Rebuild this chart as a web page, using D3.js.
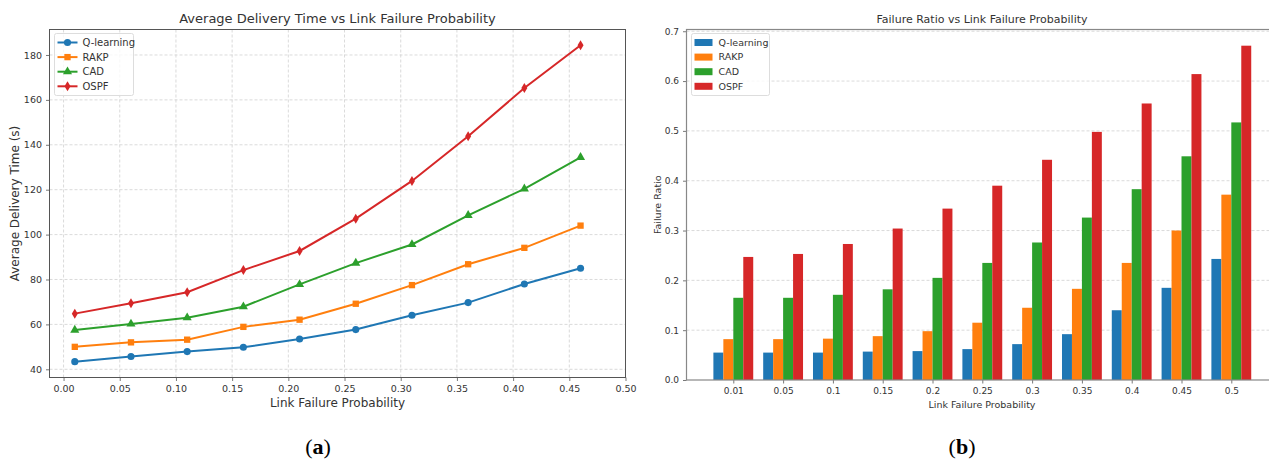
<!DOCTYPE html>
<html>
<head>
<meta charset="utf-8">
<script src="https://cdn.jsdelivr.net/npm/d3@7"></script>
<style>
  body { margin: 0; background: #fff; }
  text { font-family: "DejaVu Sans", sans-serif; fill: #333; }
</style>
</head>
<body>
<div id="chart"></div>
<script>
// --- data ---
const series = ['Q-learning', 'RAKP', 'CAD', 'OSPF'];
const colors = ['#1f77b4', '#ff7f0e', '#2ca02c', '#d62728'];

// (a) average delivery time
const probA = [0.01, 0.06, 0.11, 0.16, 0.21, 0.26, 0.31, 0.36, 0.41, 0.46];
const timeQ = [43.4, 45.7, 47.9, 49.8, 53.5, 57.7, 64.1, 69.7, 78.0, 85.0];
const timeRAKP = [50.0, 52.0, 53.2, 58.9, 62.1, 69.2, 77.5, 86.8, 94.1, 104.0];
const timeCAD = [57.5, 60.2, 63.0, 67.9, 77.8, 87.3, 95.6, 108.6, 120.4, 134.4];
const timeOSPF = [64.8, 69.4, 74.3, 84.2, 92.7, 107.1, 123.9, 143.8, 165.3, 184.3];
const xTicksA = [0, 0.05, 0.1, 0.15, 0.2, 0.25, 0.3, 0.35, 0.4, 0.45, 0.5];
const yTicksA = [40, 60, 80, 100, 120, 140, 160, 180];

// (b) failure ratio
const probB = ['0.01', '0.05', '0.1', '0.15', '0.2', '0.25', '0.3', '0.35', '0.4', '0.45', '0.5'];
const ratioQ = [0.055, 0.055, 0.055, 0.057, 0.058, 0.062, 0.072, 0.092, 0.140, 0.185, 0.243];
const ratioRAKP = [0.082, 0.082, 0.083, 0.088, 0.098, 0.115, 0.145, 0.183, 0.235, 0.300, 0.372];
const ratioCAD = [0.165, 0.165, 0.171, 0.182, 0.205, 0.235, 0.276, 0.326, 0.383, 0.449, 0.517];
const ratioOSPF = [0.247, 0.253, 0.273, 0.304, 0.344, 0.390, 0.442, 0.498, 0.555, 0.614, 0.671];
const yTicksB = [0, 0.1, 0.2, 0.3, 0.4, 0.5, 0.6, 0.7];

const W = 1269, H = 459;
const svg = d3.select('#chart').append('svg')
  .attr('width', W).attr('height', H);
svg.append('rect').attr('width', W).attr('height', H).attr('fill', '#fff');

const spineColor = '#555';
const gridColor = '#d0d0d0';

function styleAxis(g, fontSize) {
  g.select('.domain').remove();
  g.selectAll('.tick line').attr('stroke', spineColor).attr('stroke-width', 0.8);
  g.selectAll('.tick text').attr('fill', '#333').style('font-size', fontSize + 'px');
}

// ---------------- chart (a) ----------------
{
  const box = { left: 49.5, right: 625.5, top: 29.5, bottom: 377.5 };
  const x = d3.scaleLinear().domain([-0.0125, 0.5]).range([box.left, box.right]);
  const y = d3.scaleLinear().domain([36.35, 191.35]).range([box.bottom, box.top]);
  const g = svg.append('g');

  // grid
  g.append('g').selectAll('line').data(xTicksA).join('line')
    .attr('x1', d => x(d)).attr('x2', d => x(d))
    .attr('y1', box.top).attr('y2', box.bottom)
    .attr('stroke', gridColor).attr('stroke-dasharray', '3,2').attr('stroke-width', 0.8);
  g.append('g').selectAll('line').data(yTicksA).join('line')
    .attr('x1', box.left).attr('x2', box.right)
    .attr('y1', d => y(d)).attr('y2', d => y(d))
    .attr('stroke', gridColor).attr('stroke-dasharray', '3,2').attr('stroke-width', 0.8);

  const xAxis = g.append('g').attr('transform', `translate(0,${box.bottom})`)
    .call(d3.axisBottom(x).tickValues(xTicksA).tickFormat(d3.format('.2f')).tickSizeOuter(0).tickSize(3.5).tickPadding(4));
  styleAxis(xAxis, 9.5);
  const yAxis = g.append('g').attr('transform', `translate(${box.left},0)`)
    .call(d3.axisLeft(y).tickValues(yTicksA).tickSizeOuter(0).tickSize(3.5).tickPadding(4));
  styleAxis(yAxis, 9.5);

  g.append('rect')
    .attr('x', box.left).attr('y', box.top)
    .attr('width', box.right - box.left).attr('height', box.bottom - box.top)
    .attr('fill', 'none').attr('stroke', spineColor).attr('stroke-width', 1);

  const allTimes = [timeQ, timeRAKP, timeCAD, timeOSPF];
  const symbols = [
    d3.symbol().type(d3.symbolCircle).size(40),
    d3.symbol().type(d3.symbolSquare).size(40),
    d3.symbol().type(d3.symbolTriangle).size(36),
    null
  ];
  const line = d3.line().x((d, i) => x(probA[i])).y(d => y(d));

  function marker(sel, k, cx, cy) {
    if (k === 3) {
      // thin diamond
      sel.append('path')
        .attr('d', `M${cx},${cy - 5}L${cx + 3},${cy}L${cx},${cy + 5}L${cx - 3},${cy}Z`)
        .attr('fill', colors[k]);
    } else {
      sel.append('path').attr('d', symbols[k]())
        .attr('transform', `translate(${cx},${cy})`)
        .attr('fill', colors[k]);
    }
  }

  allTimes.forEach((vals, k) => {
    g.append('path').datum(vals)
      .attr('d', line).attr('fill', 'none')
      .attr('stroke', colors[k]).attr('stroke-width', 2);
    const mg = g.append('g');
    vals.forEach((v, i) => marker(mg, k, x(probA[i]), y(v)));
  });

  // legend
  const lg = g.append('g').attr('transform', `translate(${box.left + 5},${box.top + 4})`);
  lg.append('rect').attr('width', 79).attr('height', 62).attr('rx', 2)
    .attr('fill', '#fff').attr('fill-opacity', 0.8).attr('stroke', '#ddd');
  series.forEach((s, k) => {
    const cy = 9 + k * 14.6;
    lg.append('line').attr('x1', 3).attr('x2', 23).attr('y1', cy).attr('y2', cy)
      .attr('stroke', colors[k]).attr('stroke-width', 2);
    marker(lg, k, 13, cy);
    lg.append('text').attr('x', 28).attr('y', cy).attr('dy', '0.35em')
      .style('font-size', '10px').text(s);
  });

  g.append('text').attr('x', (box.left + box.right) / 2).attr('y', 23)
    .attr('text-anchor', 'middle').style('font-size', '13px')
    .text('Average Delivery Time vs Link Failure Probability');
  g.append('text').attr('x', (box.left + box.right) / 2).attr('y', 407)
    .attr('text-anchor', 'middle').style('font-size', '12px')
    .text('Link Failure Probability');
  g.append('text').attr('transform', `translate(19,${(box.top + box.bottom) / 2}) rotate(-90)`)
    .attr('text-anchor', 'middle').style('font-size', '12px')
    .text('Average Delivery Time (s)');
}

// ---------------- chart (b) ----------------
{
  const box = { left: 686.5, top: 29.5, bottom: 380 };
  const step = 49.8;
  const x = d3.scaleLinear().domain([-0.94, 10.94]).range([box.left, box.left + 11.88 * step]);
  const y = d3.scaleLinear().domain([0, 0.7035]).range([box.bottom, box.top]);
  const right = x(10.94);
  const g = svg.append('g');

  g.append('g').selectAll('line').data(yTicksB.slice(1)).join('line')
    .attr('x1', box.left).attr('x2', right)
    .attr('y1', d => y(d)).attr('y2', d => y(d))
    .attr('stroke', gridColor).attr('stroke-dasharray', '3,2').attr('stroke-width', 0.8);

  const allRatios = [ratioQ, ratioRAKP, ratioCAD, ratioOSPF];
  const bw = 0.2;
  allRatios.forEach((vals, k) => {
    g.append('g').selectAll('rect').data(vals).join('rect')
      .attr('x', (d, i) => x(i - 0.4 + k * bw))
      .attr('width', x(bw) - x(0))
      .attr('y', d => y(d))
      .attr('height', d => y(0) - y(d))
      .attr('fill', colors[k]);
  });

  const xAxis = g.append('g').attr('transform', `translate(0,${box.bottom})`)
    .call(d3.axisBottom(x).tickValues(d3.range(probB.length)).tickFormat(i => probB[i])
      .tickSizeOuter(0).tickSize(3.5).tickPadding(4));
  styleAxis(xAxis, 9);
  const yAxis = g.append('g').attr('transform', `translate(${box.left},0)`)
    .call(d3.axisLeft(y).tickValues(yTicksB).tickFormat(d3.format('.1f'))
      .tickSizeOuter(0).tickSize(3.5).tickPadding(4));
  styleAxis(yAxis, 9);

  g.append('rect')
    .attr('x', box.left).attr('y', box.top)
    .attr('width', right - box.left).attr('height', box.bottom - box.top)
    .attr('fill', 'none').attr('stroke', '#888').attr('stroke-width', 1.2);

  const lg = g.append('g').attr('transform', `translate(${box.left + 5},${box.top + 4})`);
  lg.append('rect').attr('width', 78).attr('height', 62).attr('rx', 2)
    .attr('fill', '#fff').attr('fill-opacity', 0.8).attr('stroke', '#ddd');
  series.forEach((s, k) => {
    const cy = 9 + k * 14.6;
    lg.append('rect').attr('x', 3).attr('y', cy - 3.5).attr('width', 18).attr('height', 7)
      .attr('fill', colors[k]);
    lg.append('text').attr('x', 27).attr('y', cy).attr('dy', '0.35em')
      .style('font-size', '9.5px').text(s);
  });

  g.append('text').attr('x', 982).attr('y', 23)
    .attr('text-anchor', 'middle').style('font-size', '11px')
    .text('Failure Ratio vs Link Failure Probability');
  g.append('text').attr('x', 982).attr('y', 408)
    .attr('text-anchor', 'middle').style('font-size', '9.5px')
    .text('Link Failure Probability');
  g.append('text').attr('transform', `translate(661,${(box.top + box.bottom) / 2}) rotate(-90)`)
    .attr('text-anchor', 'middle').style('font-size', '9.5px')
    .text('Failure Ratio');
}

// captions
[['a', 318], ['b', 962]].forEach(([c, cx]) => {
  const t = svg.append('text').attr('x', cx).attr('y', 454)
    .attr('text-anchor', 'middle')
    .style('font-family', '"Liberation Serif", "DejaVu Serif", serif')
    .style('font-size', '22px').style('fill', '#000');
  t.append('tspan').text('(');
  t.append('tspan').style('font-weight', 'bold').text(c);
  t.append('tspan').text(')');
});
</script>
</body>
</html>
